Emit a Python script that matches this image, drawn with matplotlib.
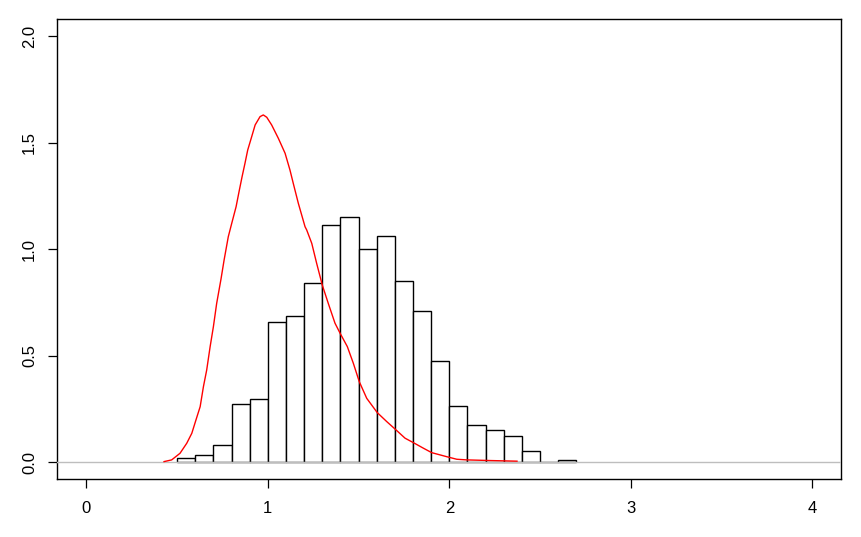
import matplotlib
matplotlib.use("Agg")
import matplotlib.pyplot as plt
import numpy as np

plt.rcParams['font.family'] = ['Liberation Sans', 'DejaVu Sans']

# Histogram (density scale), bin width 0.1
bin_edges = [0.5, 0.6, 0.7, 0.8, 0.9, 1.0, 1.1, 1.2, 1.3, 1.4, 1.5, 1.6, 1.7,
             1.8, 1.9, 2.0, 2.1, 2.2, 2.3, 2.4, 2.5, 2.6, 2.7]
bar_density = [0.020, 0.033, 0.080, 0.272, 0.296, 0.657, 0.685, 0.840, 1.114,
               1.152, 1.000, 1.061, 0.851, 0.709, 0.474, 0.263, 0.174, 0.150,
               0.122, 0.052, 0.000, 0.009]

# Red density curve
curve_x = [0.428, 0.470, 0.516, 0.553, 0.581, 0.604, 0.627, 0.645, 0.663, 0.682,
           0.700, 0.718, 0.742, 0.759, 0.782, 0.801, 0.825, 0.843, 0.858, 0.874,
           0.889, 0.911, 0.930, 0.957, 0.975, 0.994, 1.021, 1.058, 1.095, 1.122,
           1.140, 1.168, 1.205, 1.214, 1.242, 1.269, 1.300, 1.333, 1.370, 1.398,
           1.438, 1.471, 1.504, 1.545, 1.603, 1.655, 1.706, 1.756, 1.802, 1.857,
           1.903, 1.986, 2.041, 2.096, 2.224, 2.373]
curve_y = [0.003, 0.011, 0.042, 0.089, 0.136, 0.199, 0.261, 0.355, 0.433, 0.543,
           0.637, 0.746, 0.861, 0.950, 1.059, 1.122, 1.200, 1.278, 1.341, 1.404,
           1.466, 1.529, 1.584, 1.623, 1.631, 1.620, 1.584, 1.521, 1.451, 1.372,
           1.310, 1.216, 1.106, 1.091, 1.028, 0.934, 0.832, 0.746, 0.653, 0.606,
           0.543, 0.465, 0.378, 0.300, 0.233, 0.191, 0.152, 0.113, 0.092, 0.066,
           0.045, 0.026, 0.014, 0.011, 0.008, 0.005]

x_ticks = [0, 1, 2, 3, 4]
y_ticks = [0.0, 0.5, 1.0, 1.5, 2.0]
y_tick_labels = ["0.0", "0.5", "1.0", "1.5", "2.0"]

fig = plt.figure(figsize=(8.61, 5.37), dpi=100)
ax = fig.add_axes([0.0666, 0.1075, 0.9771 - 0.0666, 0.964 - 0.1075])

lefts = np.array(bin_edges[:-1])
widths = np.diff(bin_edges)
ax.bar(lefts, bar_density, width=widths, align='edge', facecolor='white',
       edgecolor='black', linewidth=1.0, zorder=2)
ax.axhline(0, color='#BEBEBE', linewidth=1.0, zorder=3)
ax.plot(curve_x, curve_y, color='red', linewidth=1.0, zorder=4)

ax.set_xlim(-0.16, 4.16)
ax.set_ylim(-0.08, 2.08)
ax.set_xticks(x_ticks)
ax.set_xticklabels([str(t) for t in x_ticks], fontsize=12)
ax.set_yticks(y_ticks)
ax.set_yticklabels(y_tick_labels, fontsize=12, rotation=90, va='center')
ax.tick_params(axis='x', length=6.5, width=0.9, pad=9, direction='out')
ax.tick_params(axis='y', length=6.5, width=0.9, pad=8, direction='out')
for s in ax.spines.values():
    s.set_linewidth(1.0)
    s.set_color('black')

fig.savefig("out.png", dpi=100, facecolor='white')
